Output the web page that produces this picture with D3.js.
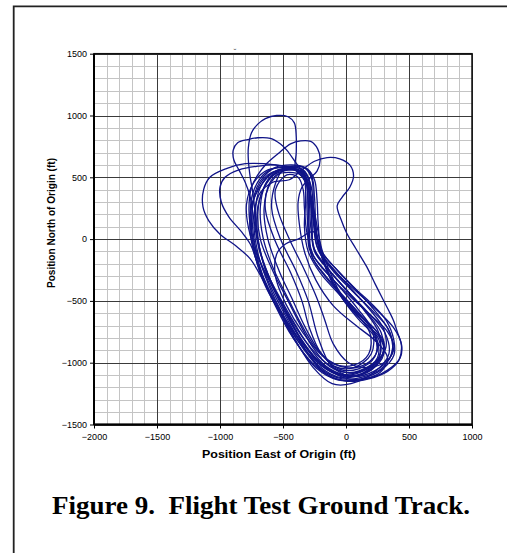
<!DOCTYPE html>
<html>
<head>
<meta charset="utf-8">
<script src="https://cdn.jsdelivr.net/npm/d3@7"></script>
<style>
html,body{margin:0;padding:0;background:#fff;}
svg{display:block;}
</style>
</head>
<body>
<svg id="chart" width="507" height="553"></svg>
<script>
// ---- data (ft east, ft north) ----
const xTicks = [-2000, -1500, -1000, -500, 0, 500, 1000];
const yTicks = [-1500, -1000, -500, 0, 500, 1000, 1500];
const xTitle = "Position East of Origin (ft)";
const yTitle = "Position North of Origin (ft)";
const caption = "Figure 9.  Flight Test Ground Track.";

const loop1 = [[-430,580],[-340,560],[-290,470],[-280,300],[-270,100],[-250,-100],[-120,-270],[20,-430],[160,-590],[280,-760],[290,-930],[140,-1080],[-40,-1120],[-220,-1020],[-390,-790],[-560,-530],[-690,-240],[-760,50],[-740,300],[-640,480],[-540,560]];
const loop2 = [[-480,560],[-380,550],[-320,470],[-300,320],[-300,120],[-290,-80],[-170,-250],[-40,-400],[90,-560],[210,-740],[200,-930],[60,-1040],[-90,-1030],[-230,-880],[-330,-700],[-420,-500],[-530,-260],[-620,0],[-650,250],[-600,450]];
const loop3 = [[-400,590],[-310,570],[-250,480],[-230,320],[-220,120],[-190,-100],[-60,-260],[90,-420],[230,-580],[350,-760],[360,-940],[220,-1070],[40,-1110],[-120,-1020],[-220,-800],[-300,-500],[-400,-250],[-520,0],[-590,250],[-560,450],[-500,560]];
const loop4 = [[-470,520],[-380,500],[-340,400],[-330,250],[-310,50],[-250,-150],[-110,-320],[40,-470],[190,-610],[330,-750],[380,-870],[330,-980],[180,-1040],[20,-1000],[-100,-850],[-170,-650],[-230,-480],[-330,-250],[-450,0],[-540,230],[-560,400]];
const loop5 = [[-440,570],[-350,550],[-300,460],[-290,300],[-280,100],[-240,-110],[-110,-280],[30,-440],[180,-600],[310,-760],[340,-930],[220,-1080],[40,-1170],[-110,-1170],[-260,-1040],[-400,-820],[-520,-600],[-640,-380],[-720,-140],[-750,120],[-720,360],[-620,520]];
const loop6 = [[-420,560],[-330,540],[-280,440],[-260,280],[-240,80],[-200,-120],[-60,-290],[100,-440],[250,-580],[380,-720],[440,-850],[430,-960],[330,-1060],[160,-1130],[-20,-1120],[-190,-1000],[-350,-780],[-510,-500],[-640,-240],[-700,20],[-700,260],[-630,450],[-530,550]];
const loop7 = [[-500,550],[-400,560],[-330,500],[-290,360],[-260,150],[-230,-60],[-110,-230],[30,-390],[180,-560],[300,-730],[310,-900],[180,-1030],[30,-1080],[-130,-1030],[-260,-880],[-370,-680],[-460,-500],[-580,-260],[-680,0],[-700,220],[-660,400],[-600,500]];
const loop8 = [[-460,580],[-360,570],[-300,490],[-280,340],[-270,140],[-260,-60],[-150,-230],[-10,-400],[140,-570],[260,-760],[260,-960],[130,-1070],[-40,-1100],[-200,-1020],[-350,-830],[-520,-500],[-660,-230],[-760,30],[-790,280],[-730,460],[-620,560]];
const loop9 = [[-380,560],[-500,590],[-650,610],[-800,610],[-950,570],[-1080,500],[-1130,400],[-1135,260],[-1090,150],[-1000,40],[-880,-50],[-760,-160],[-650,-350],[-520,-600],[-370,-840],[-200,-1020],[-20,-1110],[150,-1080],[280,-960],[300,-830],[200,-700],[50,-560],[-90,-380],[-190,-150],[-250,100],[-280,330],[-320,500]];
const loop10 = [[-420,570],[-560,600],[-700,590],[-850,560],[-960,500],[-1000,420],[-990,300],[-930,180],[-830,60],[-760,-40],[-700,-200],[-600,-430],[-460,-680],[-300,-900],[-130,-1060],[40,-1110],[200,-1060],[300,-930],[270,-800],[150,-680],[10,-530],[-120,-330],[-210,-80],[-260,200],[-300,420]];
const loop11 = [[-400,560],[-395,700],[-395,830],[-410,940],[-460,990],[-550,1000],[-640,975],[-700,930],[-750,860],[-775,740],[-775,640],[-760,500],[-740,380],[-720,200],[-700,0],[-640,-250],[-530,-500],[-390,-760],[-220,-980],[-40,-1090],[130,-1090],[260,-990],[300,-860],[230,-730],[90,-600],[-50,-440],[-160,-220],[-230,30],[-270,280],[-320,480]];
const loop12 = [[-330,520],[-400,620],[-470,720],[-520,770],[-600,815],[-700,820],[-780,805],[-860,780],[-895,720],[-890,640],[-850,560],[-800,460],[-760,340],[-730,150],[-690,-80],[-600,-330],[-470,-590],[-320,-830],[-160,-1000],[10,-1080],[170,-1050],[270,-940],[260,-810],[160,-690],[20,-540],[-100,-330],[-190,-90],[-240,160],[-280,360]];
const loop13 = [[-750,420],[-700,520],[-640,600],[-540,690],[-440,770],[-360,795],[-280,790],[-225,730],[-205,640],[-230,550],[-290,490],[-350,420],[-380,300],[-370,120],[-330,-100],[-240,-330],[-100,-540],[80,-700],[240,-830],[330,-960],[270,-1080],[100,-1140],[-80,-1130],[-260,-1010],[-420,-800],[-560,-540],[-670,-280],[-740,-20],[-770,240]];
const loop14 = [[-450,480],[-350,560],[-250,630],[-150,660],[-50,650],[30,600],[60,510],[30,420],[-30,340],[-70,270],[-40,160],[5,50],[80,-80],[164,-223],[230,-360],[296,-493],[340,-580],[375,-655],[410,-760],[440,-860],[420,-980],[330,-1070],[180,-1130],[10,-1150],[-160,-1090],[-330,-900],[-480,-650],[-610,-380],[-700,-110],[-730,160],[-690,360],[-580,460]];
const loop15 = [[-260,60],[-380,0],[-480,-40],[-550,-120],[-560,-300],[-480,-520],[-340,-760],[-180,-950],[0,-1040],[160,-1010],[250,-900],[220,-780],[100,-650],[-30,-480],[-150,-250],[-210,-60]];
const loop16 = [[-450,540],[-360,520],[-310,430],[-300,270],[-290,60],[-270,-140],[-160,-300],[-30,-450],[110,-610],[230,-780],[230,-950],[100,-1050],[-60,-1050],[-200,-920],[-290,-720],[-350,-500],[-440,-270],[-560,-20],[-640,240],[-620,420],[-550,520]];
const loop17 = [[-430,600],[-330,580],[-270,500],[-250,340],[-240,140],[-210,-70],[-80,-240],[60,-390],[200,-520],[320,-660],[380,-820],[380,-940],[290,-1050],[120,-1130],[-60,-1140],[-240,-1040],[-400,-830],[-520,-600],[-610,-430],[-690,-200],[-740,80],[-740,300],[-680,470],[-560,580]];
const loop18 = [[-440,560],[-350,540],[-310,440],[-310,260],[-300,60],[-270,-140],[-160,-310],[-20,-470],[120,-620],[240,-790],[250,-960],[110,-1070],[-60,-1090],[-220,-990],[-360,-800],[-480,-580],[-600,-330],[-690,-60],[-720,200],[-680,420],[-580,540]];
const loop19 = [[-410,590],[-320,570],[-270,480],[-260,300],[-250,100],[-220,-90],[-100,-260],[50,-420],[200,-570],[330,-720],[370,-880],[300,-1030],[150,-1110],[-30,-1130],[-200,-1050],[-340,-870],[-470,-640],[-600,-380],[-710,-100],[-760,160],[-730,400],[-620,550]];
const loop20 = [[-470,570],[-380,560],[-330,480],[-320,320],[-330,100],[-300,-100],[-200,-280],[-60,-440],[80,-600],[190,-760],[180,-930],[60,-1020],[-100,-1010],[-240,-880],[-360,-680],[-470,-460],[-580,-230],[-660,20],[-680,260],[-640,440],[-560,540]];

const tracks = [loop1, loop2, loop3, loop4, loop5, loop6, loop7, loop8, loop9, loop10,
                loop11, loop12, loop13, loop14, loop15, loop16, loop17, loop18, loop19, loop20];

// ---- drawing ----
const svg = d3.select("#chart");
const L = 94, R = 472, T = 53.7, B = 424.5;
const x = d3.scaleLinear().domain([-2000, 1000]).range([L, R]);
const y = d3.scaleLinear().domain([-1500, 1500]).range([B, T]);

// outer frame (clipped by page)
svg.append("path")
  .attr("d", `M13.7,553 V6.3 H507`)
  .attr("fill", "none").attr("stroke", "#222").attr("stroke-width", 1.8);

// minor grid
const minorX = d3.range(-2000, 1001, 100);
const minorY = d3.range(-1500, 1501, 100);
const g = svg.append("g");
g.selectAll(".mx").data(minorX).join("line")
  .attr("x1", d => Math.round(x(d)) + 0.5).attr("x2", d => Math.round(x(d)) + 0.5)
  .attr("y1", T).attr("y2", B)
  .attr("stroke", "#c4c4c4").attr("stroke-width", 1);
g.selectAll(".my").data(minorY).join("line")
  .attr("y1", d => Math.round(y(d)) + 0.5).attr("y2", d => Math.round(y(d)) + 0.5)
  .attr("x1", L).attr("x2", R)
  .attr("stroke", "#c4c4c4").attr("stroke-width", 1);
// major grid
g.selectAll(".Mx").data(xTicks).join("line")
  .attr("x1", d => Math.round(x(d)) + 0.5).attr("x2", d => Math.round(x(d)) + 0.5)
  .attr("y1", T).attr("y2", B)
  .attr("stroke", "#3a3a3a").attr("stroke-width", 1);
g.selectAll(".My").data(yTicks).join("line")
  .attr("y1", d => Math.round(y(d)) + 0.5).attr("y2", d => Math.round(y(d)) + 0.5)
  .attr("x1", L).attr("x2", R)
  .attr("stroke", "#3a3a3a").attr("stroke-width", 1);

// tracks
svg.append("clipPath").attr("id", "pc").append("rect")
  .attr("x", L).attr("y", T).attr("width", R - L).attr("height", B - T);
const line = d3.line().x(d => x(d[0])).y(d => y(d[1])).curve(d3.curveCatmullRomClosed.alpha(0.5));
svg.append("g").attr("clip-path", "url(#pc)")
  .selectAll("path").data(tracks).join("path")
  .attr("d", line)
  .attr("fill", "none").attr("stroke", "#101488").attr("stroke-width", 1.3)
  .attr("stroke-linejoin", "round");

// plot border
svg.append("rect").attr("x", L).attr("y", T).attr("width", R - L).attr("height", B - T)
  .attr("fill", "none").attr("stroke", "#111").attr("stroke-width", 1.5);
svg.append("line").attr("x1", L).attr("x2", L).attr("y1", T).attr("y2", B + 0.5)
  .attr("stroke", "#000").attr("stroke-width", 2);
svg.append("line").attr("x1", L).attr("x2", R).attr("y1", B).attr("y2", B)
  .attr("stroke", "#000").attr("stroke-width", 2);

// axes
const xAxis = d3.axisBottom(x).tickValues(xTicks).tickSize(4).tickPadding(5).tickFormat(d3.format("d"));
const yAxis = d3.axisLeft(y).tickValues(yTicks).tickSize(4).tickPadding(3).tickFormat(d3.format("d"));
const gx = svg.append("g").attr("transform", `translate(0,${B})`).call(xAxis);
const gy = svg.append("g").attr("transform", `translate(${L},0)`).call(yAxis);
[gx, gy].forEach(a => {
  a.select(".domain").remove();
  a.selectAll(".tick line").attr("stroke", "#000").attr("stroke-width", 1);
  a.selectAll(".tick text").attr("font-family", "Arial, 'Liberation Sans', sans-serif")
    .attr("font-size", 9).attr("fill", "#000");
});
gy.selectAll(".tick text").attr("x", -7);

// titles
svg.append("text").attr("x", 279).attr("y", 458).attr("text-anchor", "middle")
  .attr("font-family", "Arial, 'Liberation Sans', sans-serif").attr("font-weight", "bold")
  .attr("font-size", 10).attr("textLength", 154).attr("lengthAdjust", "spacingAndGlyphs")
  .text(xTitle);
svg.append("text").attr("transform", "translate(54.5,223) rotate(-90)").attr("text-anchor", "middle")
  .attr("font-family", "Arial, 'Liberation Sans', sans-serif").attr("font-weight", "bold")
  .attr("font-size", 10).attr("textLength", 130).attr("lengthAdjust", "spacingAndGlyphs")
  .text(yTitle);
// tiny stray glyph above plot
svg.append("text").attr("x", 235).attr("y", 54).attr("text-anchor", "middle")
  .attr("font-family", "Arial, sans-serif").attr("font-size", 8).attr("fill", "#444").text("˘");

// caption
svg.append("text").attr("x", 261).attr("y", 514).attr("text-anchor", "middle")
  .attr("font-family", "'Times New Roman', 'Liberation Serif', serif").attr("font-weight", "bold")
  .attr("font-size", 26).attr("textLength", 418).attr("lengthAdjust", "spacingAndGlyphs")
  .style("white-space", "pre")
  .text(caption);
</script>
</body>
</html>
